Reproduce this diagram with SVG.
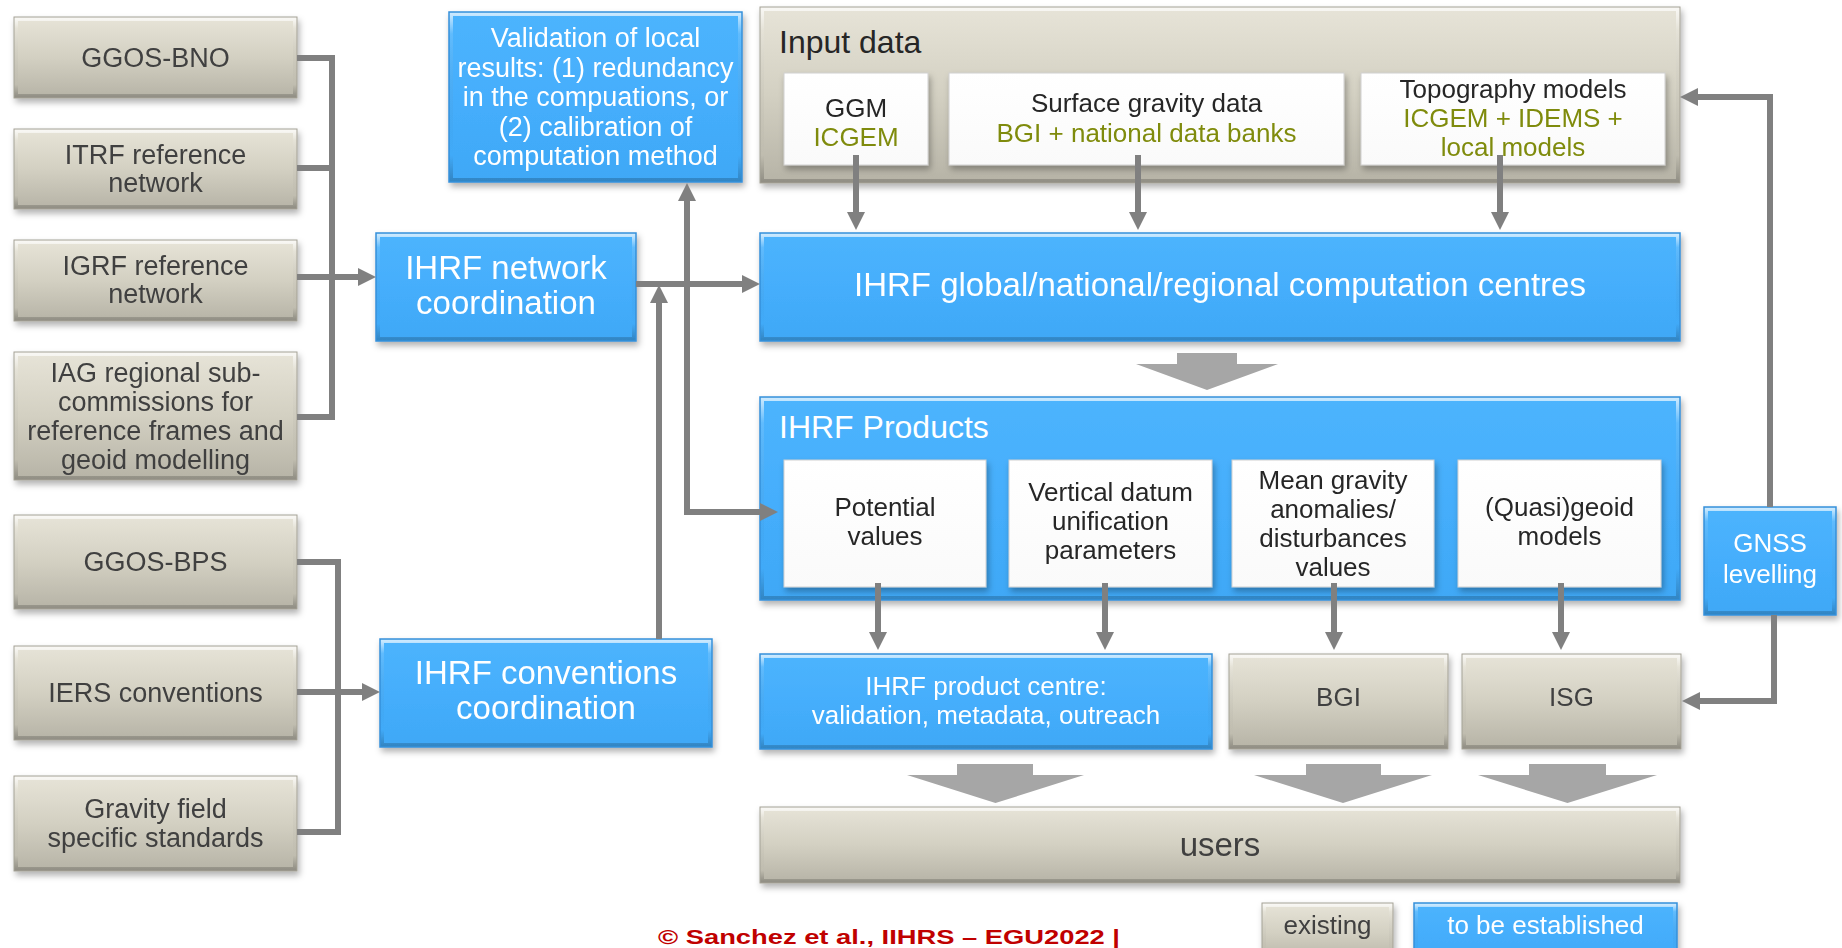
<svg xmlns="http://www.w3.org/2000/svg" width="1842" height="948" viewBox="0 0 1842 948">
<defs>
  <linearGradient id="gGray" x1="0" y1="0" x2="0" y2="1">
    <stop offset="0" stop-color="#e7e4d8"/>
    <stop offset="0.5" stop-color="#d3d0c2"/>
    <stop offset="1" stop-color="#b6b3a6"/>
  </linearGradient>
  <linearGradient id="gBlue" x1="0" y1="0" x2="0" y2="1">
    <stop offset="0" stop-color="#4db4fd"/>
    <stop offset="0.5" stop-color="#45aefc"/>
    <stop offset="1" stop-color="#3fa8f6"/>
  </linearGradient>
  <linearGradient id="gWhite" x1="0" y1="0" x2="0" y2="1">
    <stop offset="0" stop-color="#ffffff"/>
    <stop offset="1" stop-color="#fafafa"/>
  </linearGradient>
  <linearGradient id="gBev" x1="0" y1="0" x2="0" y2="1">
    <stop offset="0" stop-color="#ffffff" stop-opacity="0.7"/>
    <stop offset="0.12" stop-color="#ffffff" stop-opacity="0.12"/>
    <stop offset="0.85" stop-color="#000000" stop-opacity="0"/>
    <stop offset="1" stop-color="#000000" stop-opacity="0.2"/>
  </linearGradient>
  <filter id="sh" x="-10%" y="-10%" width="125%" height="135%">
    <feDropShadow dx="2" dy="4" stdDeviation="3" flood-color="#000" flood-opacity="0.3"/>
  </filter>
  <marker id="ah" viewBox="0 0 18 18" refX="1" refY="9" markerWidth="18" markerHeight="18" markerUnits="userSpaceOnUse" orient="auto-start-reverse">
    <path d="M0,0 L18,9 L0,18 z" fill="#808080"/>
  </marker>
  <style>
    .gray{fill:url(#gGray)}
    .blue{fill:url(#gBlue)}
    .white{fill:url(#gWhite)}
    .bev{fill:none;stroke:url(#gBev);stroke-width:4}
    .edgeG{fill:none;stroke:#a4a195;stroke-width:1}
    .edgeB{fill:none;stroke:#3590da;stroke-width:1.5}
    .edgeW{fill:none;stroke:#d0d0d0;stroke-width:1}
    .t{font-family:"Liberation Sans",Arial,Helvetica,sans-serif;text-anchor:middle;font-size:26px}
    .l{font-size:27px}
    .h{font-family:"Liberation Sans",Arial,Helvetica,sans-serif;font-size:32px}
    .big{font-size:33px}
    .dark{fill:#404040}
    .blk{fill:#262626}
    .wt{fill:#ffffff}
    .ol{fill:#7f8b0a}
    .ln{fill:none;stroke:#808080;stroke-width:6;stroke-linejoin:miter}
    .lna{fill:none;stroke:#808080;stroke-width:6;marker-end:url(#ah)}
    .bigarr{fill:#a6a6a6}
  </style>
</defs>
<rect width="1842" height="948" fill="#ffffff"/>

<!-- left: network inputs -->
<g id="n_bno" filter="url(#sh)">
  <rect class="gray" x="14" y="17" width="283" height="81"/>
  <rect class="bev" x="16" y="19" width="279" height="77"/>
  <rect class="edgeG" x="14" y="17" width="283" height="81"/>
  <text class="t l dark" x="155.5" y="67">GGOS-BNO</text>
</g>
<g id="n_itrf" filter="url(#sh)">
  <rect class="gray" x="14" y="129" width="283" height="80"/>
  <rect class="bev" x="16" y="131" width="279" height="76"/>
  <rect class="edgeG" x="14" y="129" width="283" height="80"/>
  <text class="t l dark" x="155.5" y="164">ITRF reference</text>
  <text class="t l dark" x="155.5" y="192">network</text>
</g>
<g id="n_igrf" filter="url(#sh)">
  <rect class="gray" x="14" y="240" width="283" height="81"/>
  <rect class="bev" x="16" y="242" width="279" height="77"/>
  <rect class="edgeG" x="14" y="240" width="283" height="81"/>
  <text class="t l dark" x="155.5" y="275">IGRF reference</text>
  <text class="t l dark" x="155.5" y="303">network</text>
</g>
<g id="n_iag" filter="url(#sh)">
  <rect class="gray" x="14" y="352" width="283" height="128"/>
  <rect class="bev" x="16" y="354" width="279" height="124"/>
  <rect class="edgeG" x="14" y="352" width="283" height="128"/>
  <text class="t l dark" x="155.5" y="382">IAG regional sub-</text>
  <text class="t l dark" x="155.5" y="411">commissions for</text>
  <text class="t l dark" x="155.5" y="440">reference frames and</text>
  <text class="t l dark" x="155.5" y="469">geoid modelling</text>
</g>

<!-- left: conventions inputs -->
<g id="n_bps" filter="url(#sh)">
  <rect class="gray" x="14" y="515" width="283" height="94"/>
  <rect class="bev" x="16" y="517" width="279" height="90"/>
  <rect class="edgeG" x="14" y="515" width="283" height="94"/>
  <text class="t l dark" x="155.5" y="571">GGOS-BPS</text>
</g>
<g id="n_iers" filter="url(#sh)">
  <rect class="gray" x="14" y="646" width="283" height="94"/>
  <rect class="bev" x="16" y="648" width="279" height="90"/>
  <rect class="edgeG" x="14" y="646" width="283" height="94"/>
  <text class="t l dark" x="155.5" y="702">IERS conventions</text>
</g>
<g id="n_grav" filter="url(#sh)">
  <rect class="gray" x="14" y="776" width="283" height="95"/>
  <rect class="bev" x="16" y="778" width="279" height="91"/>
  <rect class="edgeG" x="14" y="776" width="283" height="95"/>
  <text class="t l dark" x="155.5" y="818">Gravity field</text>
  <text class="t l dark" x="155.5" y="847">specific standards</text>
</g>

<!-- validation -->
<g id="n_val" filter="url(#sh)">
  <rect class="blue" x="449" y="12" width="293" height="170"/>
  <rect class="bev" x="451" y="14" width="289" height="166"/>
  <rect class="edgeB" x="449" y="12" width="293" height="170"/>
  <text class="t l wt" x="595.5" y="47">Validation of local</text>
  <text class="t l wt" x="595.5" y="76.5">results: (1) redundancy</text>
  <text class="t l wt" x="595.5" y="106">in the compuations, or</text>
  <text class="t l wt" x="595.5" y="135.5">(2) calibration of</text>
  <text class="t l wt" x="595.5" y="165">computation method</text>
</g>

<!-- network coordination -->
<g id="n_net" filter="url(#sh)">
  <rect class="blue" x="376" y="233" width="260" height="108"/>
  <rect class="bev" x="378" y="235" width="256" height="104"/>
  <rect class="edgeB" x="376" y="233" width="260" height="108"/>
  <text class="t wt big" x="506" y="279">IHRF network</text>
  <text class="t wt big" x="506" y="314">coordination</text>
</g>

<!-- conventions coordination -->
<g id="n_conv" filter="url(#sh)">
  <rect class="blue" x="380" y="639" width="332" height="108"/>
  <rect class="bev" x="382" y="641" width="328" height="104"/>
  <rect class="edgeB" x="380" y="639" width="332" height="108"/>
  <text class="t wt big" x="546" y="684">IHRF conventions</text>
  <text class="t wt big" x="546" y="719">coordination</text>
</g>

<!-- input data -->
<g id="n_input">
  <g filter="url(#sh)">
    <rect class="gray" x="760" y="7" width="920" height="176"/>
    <rect class="bev" x="762" y="9" width="916" height="172"/>
    <rect class="edgeG" x="760" y="7" width="920" height="176"/>
  </g>
  <text class="h blk" x="779" y="53">Input data</text>
  <g id="n_ggm" filter="url(#sh)">
    <rect class="white" x="784" y="73" width="144" height="92"/>
    <rect class="edgeW" x="784" y="73" width="144" height="92"/>
    <text class="t blk" x="856" y="117">GGM</text>
    <text class="t ol" x="856" y="146">ICGEM</text>
  </g>
  <g id="n_surf" filter="url(#sh)">
    <rect class="white" x="949" y="73" width="395" height="92"/>
    <rect class="edgeW" x="949" y="73" width="395" height="92"/>
    <text class="t blk" x="1146.5" y="112">Surface gravity data</text>
    <text class="t ol" x="1146.5" y="142">BGI + national data banks</text>
  </g>
  <g id="n_topo" filter="url(#sh)">
    <rect class="white" x="1361" y="73" width="304" height="92"/>
    <rect class="edgeW" x="1361" y="73" width="304" height="92"/>
    <text class="t blk" x="1513" y="98">Topography models</text>
    <text class="t ol" x="1513" y="127">ICGEM + IDEMS +</text>
    <text class="t ol" x="1513" y="156">local models</text>
  </g>
</g>

<!-- computation centres -->
<g id="n_comp" filter="url(#sh)">
  <rect class="blue" x="760" y="233" width="920" height="108"/>
  <rect class="bev" x="762" y="235" width="916" height="104"/>
  <rect class="edgeB" x="760" y="233" width="920" height="108"/>
  <text class="t wt" style="font-size:33px" x="1220" y="296">IHRF global/national/regional computation centres</text>
</g>

<!-- products -->
<g id="n_prod">
  <g filter="url(#sh)">
    <rect class="blue" x="760" y="397" width="920" height="203"/>
    <rect class="bev" x="762" y="399" width="916" height="199"/>
    <rect class="edgeB" x="760" y="397" width="920" height="203"/>
  </g>
  <text class="h wt" x="779" y="438">IHRF Products</text>
  <g id="n_pot" filter="url(#sh)">
    <rect class="white" x="784" y="460" width="202" height="127"/>
    <rect class="edgeW" x="784" y="460" width="202" height="127"/>
    <text class="t blk" x="885" y="516">Potential</text>
    <text class="t blk" x="885" y="545">values</text>
  </g>
  <g id="n_vdu" filter="url(#sh)">
    <rect class="white" x="1009" y="460" width="203" height="127"/>
    <rect class="edgeW" x="1009" y="460" width="203" height="127"/>
    <text class="t blk" x="1110.5" y="501">Vertical datum</text>
    <text class="t blk" x="1110.5" y="530">unification</text>
    <text class="t blk" x="1110.5" y="559">parameters</text>
  </g>
  <g id="n_mg" filter="url(#sh)">
    <rect class="white" x="1232" y="460" width="202" height="127"/>
    <rect class="edgeW" x="1232" y="460" width="202" height="127"/>
    <text class="t blk" x="1333" y="489">Mean gravity</text>
    <text class="t blk" x="1333" y="518">anomalies/</text>
    <text class="t blk" x="1333" y="547">disturbances</text>
    <text class="t blk" x="1333" y="576">values</text>
  </g>
  <g id="n_qg" filter="url(#sh)">
    <rect class="white" x="1458" y="460" width="203" height="127"/>
    <rect class="edgeW" x="1458" y="460" width="203" height="127"/>
    <text class="t blk" x="1559.5" y="516">(Quasi)geoid</text>
    <text class="t blk" x="1559.5" y="545">models</text>
  </g>
</g>

<!-- product centre -->
<g id="n_pc" filter="url(#sh)">
  <rect class="blue" x="760" y="654" width="452" height="95"/>
  <rect class="bev" x="762" y="656" width="448" height="91"/>
  <rect class="edgeB" x="760" y="654" width="452" height="95"/>
  <text class="t wt" x="986" y="695">IHRF product centre:</text>
  <text class="t wt" x="986" y="724">validation, metadata, outreach</text>
</g>
<g id="n_bgi" filter="url(#sh)">
  <rect class="gray" x="1229" y="654" width="219" height="95"/>
  <rect class="bev" x="1231" y="656" width="215" height="91"/>
  <rect class="edgeG" x="1229" y="654" width="219" height="95"/>
  <text class="t dark" x="1338.5" y="706">BGI</text>
</g>
<g id="n_isg" filter="url(#sh)">
  <rect class="gray" x="1462" y="654" width="219" height="95"/>
  <rect class="bev" x="1464" y="656" width="215" height="91"/>
  <rect class="edgeG" x="1462" y="654" width="219" height="95"/>
  <text class="t dark" x="1571.5" y="706">ISG</text>
</g>

<!-- GNSS levelling -->
<g id="n_gnss" filter="url(#sh)">
  <rect class="blue" x="1704" y="507" width="132" height="108"/>
  <rect class="bev" x="1706" y="509" width="128" height="104"/>
  <rect class="edgeB" x="1704" y="507" width="132" height="108"/>
  <text class="t wt" x="1770" y="552">GNSS</text>
  <text class="t wt" x="1770" y="583">levelling</text>
</g>

<!-- users -->
<g id="n_users" filter="url(#sh)">
  <rect class="gray" x="760" y="807" width="920" height="76"/>
  <rect class="bev" x="762" y="809" width="916" height="72"/>
  <rect class="edgeG" x="760" y="807" width="920" height="76"/>
  <text class="t dark big" x="1220" y="856">users</text>
</g>

<!-- legend -->
<g id="legend">
  <g id="n_leg_existing" filter="url(#sh)">
    <rect class="gray" x="1262" y="903" width="131" height="60"/>
    <rect class="bev" x="1264" y="905" width="127" height="56"/>
    <rect class="edgeG" x="1262" y="903" width="131" height="60"/>
    <text class="t dark" x="1327.5" y="934">existing</text>
  </g>
  <g id="n_leg_new" filter="url(#sh)">
    <rect class="blue" x="1414" y="903" width="263" height="60"/>
    <rect class="bev" x="1416" y="905" width="259" height="56"/>
    <rect class="edgeB" x="1414" y="903" width="263" height="60"/>
    <text class="t wt" x="1545.5" y="934">to be established</text>
  </g>
</g>

<text id="credit" x="658" y="944" style="font-family:'Liberation Sans',Arial,sans-serif;font-weight:bold;font-size:21px;fill:#c00000" textLength="462" lengthAdjust="spacingAndGlyphs">© Sanchez et al., IIHRS – EGU2022 |</text>

<!-- connectors -->
<g id="connectors">
  <path class="ln" d="M297,58 H332 V417 H297"/>
  <path class="ln" d="M297,168 H332"/>
  <path class="lna" d="M297,277 H359"/>
  <path class="ln" d="M297,562 H338 V832 H297"/>
  <path class="lna" d="M297,692 H363"/>
  <path class="lna" d="M636,284 H743"/>
  <path class="lna" d="M659,639 V302"/>
  <path class="ln" d="M687,200 V512 H761" style="marker-start:url(#ah);marker-end:url(#ah)"/>
  <path class="lna" d="M856,155 V213"/>
  <path class="lna" d="M1138,155 V213"/>
  <path class="lna" d="M1500,155 V213"/>
  <path class="lna" d="M878,583 V633"/>
  <path class="lna" d="M1105,583 V633"/>
  <path class="lna" d="M1334,583 V633"/>
  <path class="lna" d="M1561,583 V633"/>
  <path class="lna" d="M1770,507 V97 H1697"/>
  <path class="lna" d="M1774,615 V701 H1699"/>
  <polygon class="bigarr" points="1177,353 1237,353 1237,364 1278,364 1207,390 1136,364 1177,364"/>
  <polygon class="bigarr" points="957,764 1033,764 1033,775 1084,775 995.5,803 907,775 957,775"/>
  <polygon class="bigarr" points="1306,764 1381,764 1381,775 1432,775 1343,803 1254,775 1306,775"/>
  <polygon class="bigarr" points="1529,764 1606,764 1606,775 1657,775 1567.5,803 1478,775 1529,775"/>
</g>
</svg>
